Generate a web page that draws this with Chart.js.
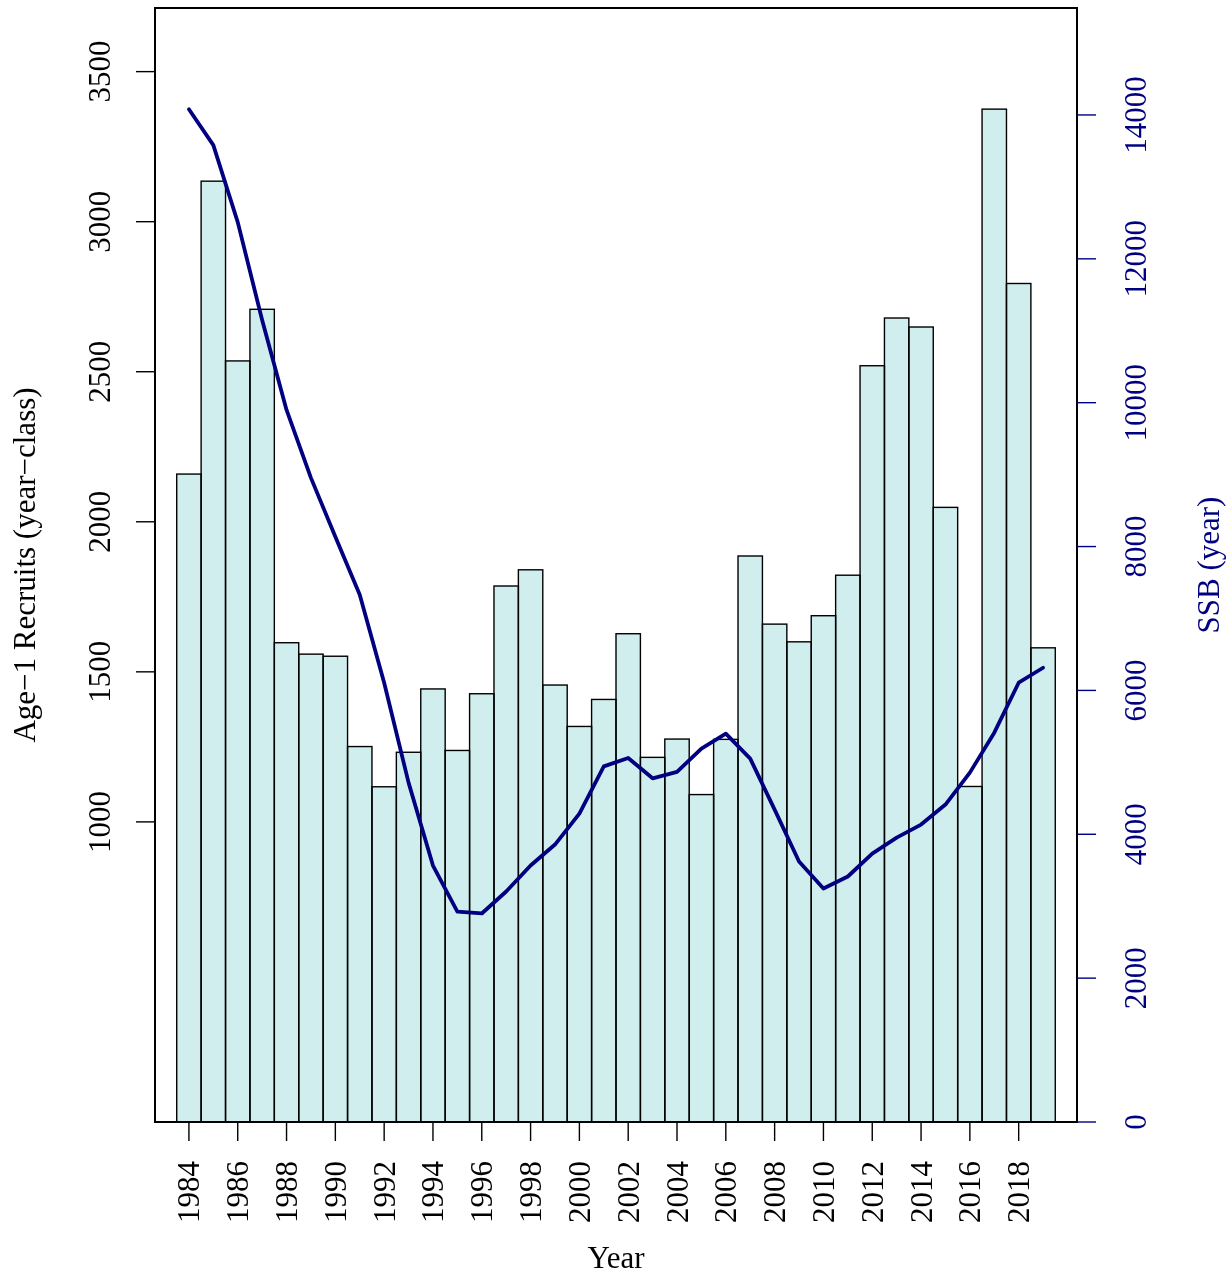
<!DOCTYPE html>
<html>
<head>
<meta charset="utf-8">
<script src="https://cdn.jsdelivr.net/npm/chart.js@4.4.1/dist/chart.umd.min.js"></script>
<style>
  html, body { margin: 0; padding: 0; background: #fff; }
  canvas { display: block; }
</style>
</head>
<body>
<canvas id="recruitChart" width="1231" height="1273"></canvas>
<script>
// Age-1 recruits by year-class (bars) and SSB (line, right axis)
const years = [1984, 1985, 1986, 1987, 1988, 1989, 1990, 1991, 1992, 1993, 1994, 1995,
               1996, 1997, 1998, 1999, 2000, 2001, 2002, 2003, 2004, 2005, 2006, 2007,
               2008, 2009, 2010, 2011, 2012, 2013, 2014, 2015, 2016, 2017, 2018, 2019];
const recruits = [2159, 3135, 2536, 2708, 1597, 1559, 1552, 1251, 1117, 1232, 1443, 1238,
                  1427, 1786, 1840, 1456, 1318, 1408, 1627, 1215, 1276, 1091, 1275, 1886,
                  1659, 1600, 1687, 1822, 2520, 2679, 2649, 2048, 1118, 3375, 2794, 1580];
const ssb = [14080, 13580, 12510, 11150, 9900, 8955, 8135, 7330, 6107, 4718, 3565, 2926,
             2899, 3204, 3565, 3857, 4288, 4944, 5061, 4778, 4867, 5190, 5399, 5051,
             4343, 3621, 3246, 3413, 3732, 3954, 4135, 4413, 4857, 5413, 6107, 6315];
const yearTicks = [1984, 1986, 1988, 1990, 1992, 1994, 1996, 1998, 2000, 2002, 2004, 2006,
                   2008, 2010, 2012, 2014, 2016, 2018];
const recruitTicks = [1000, 1500, 2000, 2500, 3000, 3500];
const ssbTicks = [0, 2000, 4000, 6000, 8000, 10000, 12000, 14000];

const FONT = '31px "Liberation Serif", "DejaVu Serif", serif';
const NAVY = '#000080';

// outline each bar once (R style), before the SSB line is drawn on top
const barOutline = {
    id: 'barOutline',
    afterDatasetDraw(chart, args) {
        if (chart.data.datasets[args.index].type !== 'bar') return;
        const ctx = chart.ctx;
        ctx.save();
        ctx.strokeStyle = '#000';
        ctx.lineWidth = 1.4;
        args.meta.data.forEach(bar => {
            const p = bar.getProps(['x', 'y', 'base', 'width'], true);
            ctx.strokeRect(p.x - p.width / 2, p.y, p.width, p.base - p.y);
        });
        ctx.restore();
    }
};

// R-style axes drawn from the chart's own scales
const rAxes = {
    id: 'rAxes',
    afterDraw(chart) {
        const ctx = chart.ctx;
        const a = chart.chartArea;
        const xs = chart.scales.x, yl = chart.scales.y, yr = chart.scales.y2;
        ctx.save();

        // plot box
        ctx.strokeStyle = '#000';
        ctx.lineWidth = 2;
        ctx.strokeRect(a.left, a.top, a.right - a.left, a.bottom - a.top);

        ctx.font = FONT;
        ctx.lineWidth = 1.4;

        // bottom axis
        ctx.fillStyle = '#000';
        yearTicks.forEach(v => {
            const px = xs.getPixelForValue(v);
            ctx.beginPath();
            ctx.moveTo(px, a.bottom);
            ctx.lineTo(px, a.bottom + 19);
            ctx.stroke();
            ctx.save();
            ctx.translate(px + 10.5, a.bottom + 39);
            ctx.rotate(-Math.PI / 2);
            ctx.textAlign = 'right';
            ctx.textBaseline = 'alphabetic';
            ctx.fillText(String(v), 0, 0);
            ctx.restore();
        });

        // left axis
        recruitTicks.forEach(v => {
            const py = yl.getPixelForValue(v);
            ctx.beginPath();
            ctx.moveTo(a.left - 19, py);
            ctx.lineTo(a.left, py);
            ctx.stroke();
            ctx.save();
            ctx.translate(110, py);
            ctx.rotate(-Math.PI / 2);
            ctx.textAlign = 'center';
            ctx.textBaseline = 'alphabetic';
            ctx.fillText(String(v), 0, 0);
            ctx.restore();
        });

        // right axis (navy)
        ctx.strokeStyle = NAVY;
        ctx.fillStyle = NAVY;
        ssbTicks.forEach(v => {
            const py = yr.getPixelForValue(v);
            ctx.beginPath();
            ctx.moveTo(a.right, py);
            ctx.lineTo(a.right + 19, py);
            ctx.stroke();
            ctx.save();
            ctx.translate(1146, py);
            ctx.rotate(-Math.PI / 2);
            ctx.textAlign = 'center';
            ctx.textBaseline = 'alphabetic';
            ctx.fillText(String(v), 0, 0);
            ctx.restore();
        });

        // axis titles
        const midY = (a.top + a.bottom) / 2;
        ctx.textAlign = 'center';
        ctx.textBaseline = 'alphabetic';
        ctx.fillStyle = '#000';
        ctx.fillText('Year', (a.left + a.right) / 2, 1268);

        ctx.save();
        ctx.translate(35, midY);
        ctx.rotate(-Math.PI / 2);
        ctx.fillText('Age\u22121 Recruits (year\u2212class)', 0, 0);
        ctx.restore();

        ctx.save();
        ctx.fillStyle = NAVY;
        ctx.translate(1219, midY);
        ctx.rotate(-Math.PI / 2);
        ctx.fillText('SSB (year)', 0, 0);
        ctx.restore();

        ctx.restore();
    }
};

const ctx = document.getElementById('recruitChart').getContext('2d');
const recruitChart = new Chart(ctx, {
    type: 'bar',
    data: {
        datasets: [
            {
                type: 'line',
                label: 'SSB',
                data: years.map((y, i) => ({ x: y, y: ssb[i] })),
                yAxisID: 'y2',
                borderColor: NAVY,
                borderWidth: 3.8,
                borderJoinStyle: 'round',
                borderCapStyle: 'round',
                pointRadius: 0,
                tension: 0,
                fill: false,
                order: 0
            },
            {
                type: 'bar',
                label: 'Recruits',
                data: years.map((y, i) => ({ x: y, y: recruits[i] })),
                yAxisID: 'y',
                backgroundColor: '#D1EEEE',
                borderWidth: 0,
                inflateAmount: 0,
                barPercentage: 1,
                categoryPercentage: 1,
                order: 1
            }
        ]
    },
    options: {
        responsive: false,
        animation: false,
        layout: { padding: { left: 155, right: 154, top: 8, bottom: 151 } },
        plugins: {
            legend: { display: false },
            tooltip: { enabled: false }
        },
        scales: {
            x: { type: 'linear', offset: false, min: 1982.61, max: 2020.39, display: false },
            y: { type: 'linear', position: 'left', min: 0, max: 3712, display: false },
            y2: { type: 'linear', position: 'right', min: 0, max: 15487, display: false }
        }
    },
    plugins: [barOutline, rAxes]
});
</script>
</body>
</html>
